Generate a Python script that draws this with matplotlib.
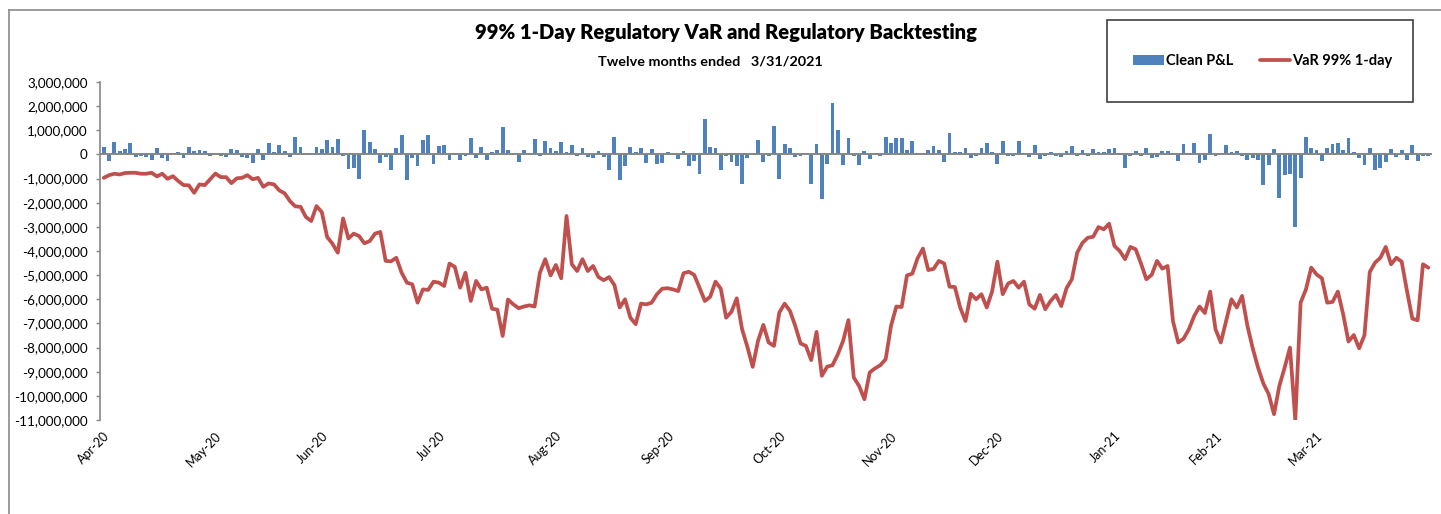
import matplotlib
matplotlib.use("Agg")
import matplotlib.pyplot as plt
from matplotlib.ticker import FuncFormatter, MultipleLocator
from matplotlib.lines import Line2D
from matplotlib.patches import Rectangle
import numpy as np

# ---------------- data ----------------
title = "99% 1-Day Regulatory VaR and Regulatory Backtesting"
subtitle = "Twelve months ended   3/31/2021"
series_names = ["Clean P&L", "VaR 99% 1-day"]
month_labels = ["Apr-20", "May-20", "Jun-20", "Jul-20", "Aug-20", "Sep-20",
                "Oct-20", "Nov-20", "Dec-20", "Jan-21", "Feb-21", "Mar-21"]
# trading days in each month (categories per month)
month_days = [21, 20, 22, 22, 21, 21, 21, 20, 22, 19, 19, 22]

# Daily clean P&L, in millions
clean_pnl_m = [
    0.32, -0.28, 0.52, 0.15, 0.23, 0.48, -0.10, -0.07, -0.11, -0.22,
    0.28, -0.14, -0.28, 0.06, 0.10, -0.14, 0.32, 0.14, 0.18, 0.14,
    -0.05, 0.06, -0.07, -0.10, 0.23, 0.18, -0.10, -0.14, -0.36, 0.23,
    -0.22, 0.48, 0.10, 0.37, 0.14, -0.10, 0.74, 0.32, 0.06, 0.06,
    0.32, 0.23, 0.61, 0.32,
    0.65, -0.07, -0.62, -0.55, -1.00, 1.03, 0.52, 0.22, -0.37, -0.11,
    -0.66, 0.28, 0.79, -1.06, -0.14, -0.48, 0.61, 0.79, -0.41, 0.34,
    0.39, -0.23, 0.06, -0.23, -0.05, 0.69, -0.14, 0.32, -0.23, 0.08,
    0.17, 1.13, 0.18, 0.06, -0.32, 0.18, 0.06, 0.65, -0.07, 0.57,
    0.28, 0.14, 0.52, 0.10,
    0.37, -0.07, 0.28, -0.10, -0.14, 0.14, -0.10, -0.66, 0.74, -1.05,
    -0.48, 0.32, 0.10, 0.28, -0.34, 0.23, -0.41, -0.36, 0.10, 0.06,
    -0.18, 0.14, -0.48, -0.28, -0.83, 1.48, 0.32, 0.28, -0.66, -0.05,
    -0.32, -0.48, -1.21, -0.14, 0.06, 0.61, -0.32, -0.05, 1.17, -1.00,
    0.44, 0.28, -0.10, -0.05,
    0.06, -1.21, 0.44, -1.86, -0.41, 2.12, 1.01, -0.44, 0.66, -0.07,
    -0.44, 0.14, -0.18, 0.06, -0.05, 0.74, 0.48, 0.69, 0.69, 0.18,
    0.57, 0.06, 0.06, 0.18, 0.36, 0.18, -0.32, 0.87, 0.10, 0.10,
    0.28, -0.14, -0.05, 0.28, 0.48, 0.10, -0.41, 0.57, -0.05, -0.05,
    0.57, 0.06, -0.11, 0.39,
    -0.18, -0.05, 0.10, -0.05, -0.10, 0.14, 0.36, -0.05, 0.18, -0.05,
    0.22, 0.10, 0.10, 0.22, 0.28, 0.06, -0.58, -0.05, 0.14, -0.05,
    0.28, -0.14, -0.10, 0.14, 0.14, 0.06, -0.28, 0.44, 0.06, 0.48,
    -0.36, -0.23, 0.83, -0.05, 0.06, 0.40, 0.10, 0.14, -0.07, -0.23,
    -0.14, -0.23, -1.27, -0.44, 0.22,
    -1.79, -0.87, -0.80, -2.99, -0.97, 0.74, 0.28, 0.18, -0.28, 0.28,
    0.44, 0.48, 0.18, 0.69, 0.10, -0.14, -0.44, 0.28, -0.66, -0.58,
    -0.32, 0.22, -0.10, 0.18, -0.23, 0.39, -0.28, -0.05, -0.05,
]

# Daily 99% 1-day VaR, in millions
var_m = [
    -0.97, -0.86, -0.80, -0.83, -0.77, -0.76, -0.76, -0.80, -0.80, -0.76,
    -0.91, -0.80, -1.01, -0.90, -1.10, -1.27, -1.28, -1.59, -1.24, -1.27,
    -1.03, -0.79, -0.94, -0.94, -1.19, -0.99, -0.97, -0.86, -1.03, -0.97,
    -1.34, -1.20, -1.24, -1.49, -1.61, -1.93, -2.15, -2.17, -2.59, -2.76,
    -2.14, -2.39, -3.42, -3.70,
    -4.07, -2.65, -3.48, -3.28, -3.38, -3.68, -3.59, -3.28, -3.21, -4.41,
    -4.43, -4.28, -4.90, -5.31, -5.38, -6.14, -5.59, -5.61, -5.27, -5.31,
    -5.45, -4.52, -4.66, -5.52, -4.90, -6.07, -5.24, -5.59, -5.52, -6.39,
    -6.43, -7.52, -6.01, -6.21, -6.37, -6.30, -6.25, -6.30, -4.90, -4.34,
    -5.01, -4.58, -5.13, -2.55,
    -4.55, -4.83, -4.34, -4.83, -4.62, -5.08, -5.21, -5.08, -5.41, -6.34,
    -6.00, -6.76, -7.03, -6.18, -6.21, -6.14, -5.79, -5.56, -5.54, -5.59,
    -5.66, -4.92, -4.86, -4.99, -5.52, -6.07, -5.90, -5.27, -5.56, -6.76,
    -6.52, -5.96, -7.24, -7.97, -8.80, -7.72, -7.06, -7.79, -7.93, -6.55,
    -6.18, -6.48, -7.10, -7.83,
    -7.93, -8.52, -7.35, -9.17, -8.79, -8.73, -8.28, -7.72, -6.86, -9.24,
    -9.59, -10.14, -9.03, -8.86, -8.73, -8.48, -7.10, -6.30, -6.32, -5.01,
    -4.94, -4.30, -3.90, -4.79, -4.74, -4.41, -4.52, -5.48, -5.49, -6.34,
    -6.90, -5.77, -6.00, -5.79, -6.34, -5.68, -4.44, -5.79, -5.35, -5.24,
    -5.52, -5.27, -6.21, -6.39,
    -5.82, -6.41, -6.07, -5.82, -6.28, -5.54, -5.17, -4.07, -3.66, -3.45,
    -3.41, -3.01, -3.10, -2.87, -3.79, -4.00, -4.34, -3.83, -3.93, -4.52,
    -5.17, -4.99, -4.41, -4.73, -4.62, -6.90, -7.79, -7.63, -7.24, -6.69,
    -6.30, -6.57, -5.68, -7.24, -7.79, -6.90, -6.00, -6.34, -5.86, -7.10,
    -8.03, -8.83, -9.49, -9.93, -10.76,
    -9.59, -8.83, -8.00, -11.00, -6.14, -5.59, -4.69, -4.97, -5.13, -6.14,
    -6.11, -5.68, -6.62, -7.75, -7.48, -8.03, -7.49, -4.87, -4.48, -4.28,
    -3.83, -4.55, -4.28, -4.44, -5.66, -6.80, -6.87, -4.55, -4.69,
]

# ---------------- style ----------------
plt.rcParams['font.family'] = ['Lato', 'DejaVu Sans']
BAR_COLOR = '#4F81BD'
LINE_COLOR = '#C0504D'
AXIS_GRAY = '#868686'

W, H = 1441, 514
fig = plt.figure(figsize=(W / 100, H / 100), dpi=100)
fig.patch.set_facecolor('white')

def fx(px):
    return px / W

def fy(py):
    return 1 - py / H

# plot area
ax = fig.add_axes([fx(100), fy(420), fx(1432) - fx(100), fy(82) - fy(420)])

pnl = np.array(clean_pnl_m) * 1e6
var = np.array(var_m) * 1e6
x = np.arange(len(pnl))

bars = ax.bar(x, pnl, width=0.72, color=BAR_COLOR, zorder=2, linewidth=0)
line, = ax.plot(x, var, color=LINE_COLOR, lw=2.7, zorder=4,
                solid_joinstyle='round', solid_capstyle='round')
ax.axhline(0, color=AXIS_GRAY, lw=1.4, zorder=3)

ax.set_ylim(-11e6, 3e6)
ax.set_xlim(-0.7, len(x) - 0.3)
ax.yaxis.set_major_locator(MultipleLocator(1e6))
ax.yaxis.set_major_formatter(FuncFormatter(lambda v, p: f"{v:,.0f}"))

starts = np.concatenate([[0], np.cumsum(month_days)[:-1]])
ax.set_xticks(starts)
ax.set_xticklabels(month_labels, rotation=45, ha='right', va='top',
                   rotation_mode='anchor', fontsize=9)
ax.tick_params(axis='x', length=0, pad=7)
ax.tick_params(axis='y', length=3, width=1, color=AXIS_GRAY, labelsize=9.7,
               pad=6, direction='out')
for s in ['top', 'right', 'bottom']:
    ax.spines[s].set_visible(False)
ax.spines['left'].set_color(AXIS_GRAY)
ax.spines['left'].set_linewidth(1.2)
ax.set_facecolor('none')

# outer chart border (top and left visible in crop)
fig.add_artist(Line2D([fx(9), 1], [fy(9.5), fy(9.5)], color='#8a8a8a', lw=1.2))
fig.add_artist(Line2D([fx(9), fx(9)], [fy(9.5), 0], color='#8a8a8a', lw=1.2))

# titles
fig.text(fx(726.5), fy(33), title, ha='center', va='center',
         fontsize=14.5, fontweight='heavy', color='black')
fig.text(fx(710), fy(61), subtitle, ha='center', va='center',
         fontsize=10.4, fontweight='bold', color='black')

# legend box
fig.add_artist(Rectangle((fx(1107), fy(101.5)), fx(1413) - fx(1107),
                         fy(19.5) - fy(101.5), transform=fig.transFigure,
                         facecolor='white', edgecolor='#404040', lw=1.2))
leg = fig.legend([bars, line], series_names, loc='center',
                 bbox_to_anchor=(fx(1263), fy(61)), ncol=2, frameon=False,
                 prop={'weight': 'bold', 'size': 10.5}, handlelength=2.1,
                 handleheight=0.7, handletextpad=0.15, columnspacing=1.8)

fig.savefig('out.png', dpi=100, facecolor='white')
